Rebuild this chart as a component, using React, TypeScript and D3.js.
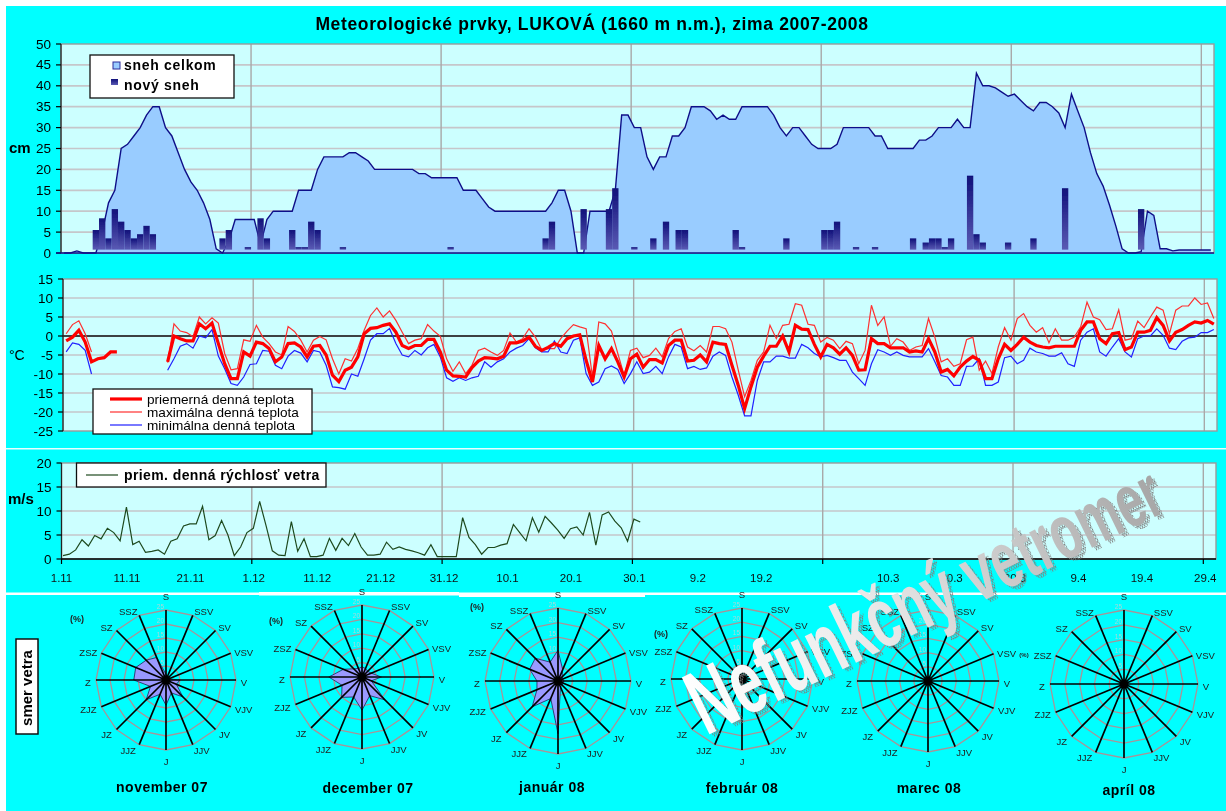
import React from "react";
import * as d3 from "d3";

const W = 1226, H = 811;
const tickLabels = ["1.11","11.11","21.11","1.12","11.12","21.12","31.12","10.1","20.1","30.1","9.2","19.2","","10.3","20.3","30.3","9.4","19.4","29.4"];
const directions = ["S","SSV","SV","VSV","V","VJV","JV","JJV","J","JJZ","JZ","ZJZ","Z","ZSZ","SZ","SSZ"];
const months = ["november 07","december 07","január 08","február 08","marec 08","apríl 08"];

const snowTotal = [0,0,0.5,0,0,0,5,12,15,25,26,28,30,33,35,35,30,28,24,20,17,15,12,8,1,0,3,8,8,8,8,2,8,10,10,10,10,15,15,15,20,23,23,23,23,24,24,23,22,20,20,20,20,20,20,20,19,19,18,18,18,18,18,15,15,15,13,11,10,10,10,10,10,10,10,10,10,12,15,15,10,0,0,10,10,10,10,15,33,33,30,30,23,20,23,23,28,28,30,35,35,35,34,32,33,32,32,35,35,35,35,35,33,30,28,30,30,28,26,25,25,25,26,30,30,30,30,30,28,28,25,25,25,25,25,27,27,28,30,30,30,32,30,30,43,40,40,39.5,38.5,37.5,38,36.5,35,34,36,36,35,33.5,30,38,34,30,24,19,16,11.5,6.5,1,0,0,0.3,10,9,1,1,0.5,0.7,0.7,0.7,0.7,0.7,0.7];
const newSnowDays = [5,6,7,8,9,10,11,12,13,14,25,26,29,31,32,36,37,38,39,40,44,61,76,77,82,86,87,90,93,95,97,98,106,107,114,120,121,122,125,128,134,136,137,138,139,140,143,144,145,149,153,158,170];
const newSnowCm = [5.5,8.3,3.5,10.5,7.5,5.5,3.5,4.5,6.5,4.5,3.5,5.5,1.4,8.3,3.5,5.5,1.4,1.4,7.5,5.5,1.4,1.4,3.5,7.5,10.5,10.5,15.5,1.4,3.5,7.5,5.5,5.5,5.5,1.4,3.5,5.5,5.5,7.5,1.4,1.4,3.5,2.5,3.5,3.5,1.4,3.5,18.5,4.5,2.5,2.5,3.5,15.5,10.5];

const n = null;
const tempMean = [-1.3,-0.3,1.5,-1.6,-6.8,-6,-5.7,-4.2,-4.2,n,n,n,n,n,n,n,-6.8,0,-0.7,-1.3,-1.3,3.2,1.9,3.4,-2,-7.3,-11.2,-11.2,-4.2,-5.3,-1.6,-2,-3.3,-6.8,-5.5,-2,-1.8,-2.9,-5.5,-2.7,-2.5,-5,-10.3,-12,-9,-8.2,-5.5,0.6,2,2.2,2.8,3.2,1,-2.5,-3.3,-2.5,-2.5,-0.9,-0.9,-4.2,-9,-10.5,-10.6,-10.8,-8.3,-6.6,-5.7,-5.8,-6,-5.3,-1.8,-1.8,-1.3,-0.3,-2.7,-3.8,-3,-2,-2.7,-0.7,0,0.3,-6.4,-12.1,-2.5,-6,-3.3,-6.8,-10.8,-6,-4.8,-8.2,-6.2,-6.2,-7.1,-2.5,-1.1,-1.1,-6.6,-6.4,-5,-6.8,-1.6,-2,-2.2,-7.7,-13,-19.1,-13.4,-8.2,-5.3,-2.7,-2.7,0,-4.2,2.8,1.8,1.7,-2.2,-5.5,-2.2,-3.1,-4.8,-3.1,-5.1,-9,-8.9,-0.7,-2,-2,-3.1,-3.1,-3.1,-4.2,-3.9,-4.2,-0.7,-4.2,-9.5,-8.8,-10.5,-8.2,-6.6,-5.4,-6.4,-11.2,-11.2,-6,-2.2,-3.8,-2.2,-0.3,-1.6,-2.5,-2.9,-3.1,-2.7,-2.7,-2.7,-2.7,1.5,3.7,3.7,-0.7,-2,0.6,0.9,-3.6,-2.9,1,1,1.5,4.8,2.8,-1.3,1,1.7,2.8,3.7,3.4,4.1,3.1];
const tempMax = [0.6,3,4,0.6,-4.2,n,n,n,n,n,n,n,n,n,n,n,-7,3.2,1.3,0.9,-0.2,5,3.2,4.8,3.4,-4.6,-8.9,-8.6,-1,-1.4,2.8,-0.3,-2,-4.2,-5,2.5,1.2,-1.1,-4.2,-1.1,-0.1,-1,-6,-10,-6,-6.6,-3.3,1.5,5.4,7.4,5,6.6,4.1,1,-2,-1.1,-0.7,3,1.3,-0.1,-6,-9.3,-6.8,-9.9,-7.7,-3.8,-3.2,-4.2,-5.1,-3.8,0.8,-1.6,-0.7,1.9,-0.3,-3.6,-3.3,-3.3,-0.7,1.3,3,2.4,1.9,-10.8,3.7,3.2,1.3,-4.6,-10.4,-3.8,-3.2,-5.7,-5.1,-3.2,-5.5,-0.7,1.2,1.9,-2.9,-3.9,-2.5,-4.2,2.5,2.5,1.9,-1.6,-9,-16,-11.7,-6.4,-4.2,2.8,-0.7,2.8,3.1,8.5,8.1,3.1,2.8,-1.6,-0.4,-1.1,-3.3,-1.4,-2,-7.3,-3.8,8.1,2.8,5,-2.7,-0.7,-1.6,-3.8,-2.9,-2.5,4.6,-0.3,-6.8,-6,-8,-7.3,-1,-0.3,-9,-6.6,-9.9,-2.9,2.2,-1.1,4.6,5.9,2.8,1,2.2,-1.8,1.9,-1.1,-1.1,-0.3,2.4,8.9,5,4.3,1.7,1.9,6.9,-1.1,-0.7,3.9,2.2,5,7.6,6.8,0.6,6.8,7.9,7.9,10,8.3,8.7,4.6];
const tempMin = [-4.2,-1.8,-2.2,-3.8,-10,n,n,n,n,n,n,n,n,n,n,n,-9,-6,-2.7,-2,-3.2,0,-0.5,1.7,-5.3,-8.6,-12.5,-13,-10.8,-7.5,-7.3,-3.8,-4,-7.7,-8.6,-5.3,-3.8,-4.5,-6.8,-3.8,-4.2,-7.7,-13.4,-13.6,-14,-10,-10.6,-6,-1.1,0.6,0.6,2,-2,-5,-5.5,-3.8,-5,-3.1,-2.2,-5.5,-11,-11.9,-11,-11.7,-11,-10.6,-6.8,-8.2,-6.8,-6,-4.2,-3.2,-2.5,-0.7,-3.1,-4.2,-4.2,-1.3,-4.2,-4.6,-1.1,-0.5,-9.9,-13,-12.1,-8.6,-7.9,-8.8,-12.5,-9.9,-6.8,-9.9,-9.5,-8,-9.9,-5.5,-2.2,-2.9,-8.6,-8,-8.8,-8.4,-5.3,-4.2,-5.1,-10.8,-15.6,-21,-21,-11.7,-6.8,-6.8,-5.3,-5.3,-5.8,-5.8,-2.2,-3.1,-4.6,-5.5,-5.1,-5.7,-6.4,-6.4,-9.5,-11.2,-13,-7.3,-3.6,-4.2,-5.1,-4.2,-5.1,-5.5,-5.5,-5.5,-3.3,-6.8,-10.4,-10.8,-13,-13,-8,-7.9,-6,-13,-13,-12.1,-5.7,-5.3,-7.3,-6.4,-3.2,-4.2,-4.6,-5.3,-5.3,-4.4,-7.3,-8,-1.1,1,1.9,-4.2,-5.3,-2.9,-0.7,-4.2,-5.5,-0.7,0,0,1.9,0.2,-3.2,-3.6,-1.4,-0.5,-0.3,0.9,0.9,1.7];
const wind = [0.7,1,1.9,4,2.7,4.9,4.2,6.4,5.5,3.8,10.8,3,3.7,1.4,1.6,1.9,1,3.7,4.2,6.9,7.3,7.3,11,4,4.9,8,5,0.7,2.5,5.5,6.4,12,7,1.7,0.8,0.7,7.8,1.6,4.2,0.5,0.5,0.8,4.3,1.8,4.3,2.8,5.3,2.5,0.8,0.8,1,3.5,2,2.5,2,1.7,1.3,0.8,3,0.5,0.5,0.5,0.5,8.6,4.5,3,1,2.4,2.4,2.9,3.2,7.2,5.5,3.8,8.6,5.6,8.9,7.5,6,4.3,6.3,6.7,5,9.7,2.9,9.2,9.8,7.9,6.5,3.7,8.3,7.7];

const roseNov = [2,1,1,1,5,4,8.5,5,9,5.5,10,6,11.5,11.7,10,8.7];
const roseDec = [3.5,3.2,2.8,3.5,6.7,3.5,11.2,7,11.5,7.5,10,7.5,11.5,7,4,3.2];
const roseJan = [10.5,4.2,2,1.8,2,1.8,2,2.2,18,6.5,12.5,7.8,7.2,10.5,11,7];
const roseFeb = directions.map(() => 0);
const roseMar = directions.map(() => 0);
const roseApr = directions.map(() => 0);
const roseData = [roseNov, roseDec, roseJan, roseFeb, roseMar, roseApr];
const ringValues = [5, 10, 15, 20, 25];
const labelDx = [0, 11, 9, 13, 8, 13, 9, 9, 0, -11, -10, -13, -8, -13, -10, -11];
const labelDy = [-13, -3, -3, 0, 3, 3, 6, 6, 12, 6, 6, 3, 3, 0, -3, -3];

const roseGeom = [
  { cx: 166, cy: 680, r: 70, capX: 162, capY: 787, pctX: 77, pctY: 619, pctSize: 9 },
  { cx: 362, cy: 677, r: 72, capX: 368, capY: 788, pctX: 276, pctY: 621, pctSize: 9 },
  { cx: 558, cy: 681, r: 73, capX: 552, capY: 787, pctX: 477, pctY: 607, pctSize: 9 },
  { cx: 742, cy: 679, r: 71, capX: 742, capY: 788, pctX: 661, pctY: 634, pctSize: 9 },
  { cx: 928, cy: 681, r: 71, capX: 929, capY: 788, pctX: 0, pctY: 0, pctSize: 9 },
  { cx: 1124, cy: 684, r: 74, capX: 1129, capY: 790, pctX: 1024, pctY: 654, pctSize: 6 },
];

const SANS = "'Liberation Sans', Arial, sans-serif";
const days = d3.range(182);
const GRID_H = "#c6c6ca", GRID_V = "#a8a8a8", BORDER = "#9a9a9a";

function Panel({ x, y, width, height, ticks }: any) {
  const vLines = d3.range(30, 182, 30);
  return (
    <g>
      <rect x={x.range()[0]} y={y.range()[1]} width={width} height={height} fill="#ccffff" />
      {ticks.filter((t: number) => t !== y.domain()[0] && t !== y.domain()[1]).map((t: number) => (
        <line key={t} x1={x.range()[0]} x2={x.range()[1]} y1={y(t)} y2={y(t)} stroke={GRID_H} strokeWidth={1.7} />
      ))}
      {vLines.map((d) => (
        <line key={d} x1={x.range()[0] + d * x.step()} x2={x.range()[0] + d * x.step()} y1={y.range()[1]} y2={y.range()[0]} stroke={GRID_V} strokeWidth={1.4} />
      ))}
      <rect x={x.range()[0]} y={y.range()[1]} width={width} height={height} fill="none" stroke={BORDER} strokeWidth={1.4} />
    </g>
  );
}

function YAxis({ x0, y, ticks }: any) {
  return (
    <g fontFamily={SANS} fontSize={13.5} fill="#000">
      <line x1={x0} x2={x0} y1={y.range()[0]} y2={y.range()[1]} stroke="#222" strokeWidth={1.2} />
      {ticks.map((t: number) => (
        <g key={t}>
          <line x1={x0 - 5} x2={x0} y1={y(t)} y2={y(t)} stroke="#000" strokeWidth={1.2} />
          <text x={x0 - 10} y={y(t) + 4.5} textAnchor="end">{t}</text>
        </g>
      ))}
    </g>
  );
}

function Rose({ values, g, caption }: any) {
  const angle = d3.scalePoint<string>().domain(directions).range([0, 337.5]);
  const rad = d3.scaleLinear().domain([0, 25]).range([0, g.r]);
  const pos = (d: string, v: number) => {
    const a = ((angle(d) as number) * Math.PI) / 180;
    return [g.cx + rad(v) * Math.sin(a), g.cy - rad(v) * Math.cos(a)];
  };
  const closed = d3.line().curve(d3.curveLinearClosed);
  return (
    <g fontFamily={SANS}>
      {ringValues.map((v) => (
        <path key={v} d={closed(directions.map((d) => pos(d, v)) as any) as string} fill="none" stroke="#a89498" strokeWidth={1.3} />
      ))}
      {ringValues.map((v) => {
        const [px, py] = pos("S", v);
        return <text key={v} x={px - 2} y={py - 1} fontSize={6.5} fill="#a8d8d8" textAnchor="end">{v}</text>;
      })}
      {values.some((v: number) => v > 0) && (
        <path d={closed(directions.map((d, i) => pos(d, values[i])) as any) as string} fill="#9999ff" stroke="#222255" strokeWidth={0.8} />
      )}
      {directions.map((d) => {
        const [px, py] = pos(d, 25);
        return <line key={d} x1={g.cx} y1={g.cy} x2={px} y2={py} stroke="#000" strokeWidth={1.7} />;
      })}
      <circle cx={g.cx} cy={g.cy} r={4.5} fill="#000" />
      {directions.map((d, i) => {
        const [px, py] = pos(d, 25);
        return <text key={d} x={px + labelDx[i]} y={py + labelDy[i] + 3} fontSize={9.5} fill="#222" textAnchor="middle">{d}</text>;
      })}
      {g.pctX > 0 && <text x={g.pctX} y={g.pctY + 3} fontSize={g.pctSize} fontWeight="bold" fill="#222" textAnchor="middle">(%)</text>}
      <text x={g.capX} y={g.capY + 5} fontSize={14} letterSpacing={0.5} fontWeight="bold" fill="#000" textAnchor="middle">{caption}</text>
    </g>
  );
}

export default function App() {
  const x1 = d3.scaleBand<number>().domain(days).range([61, 1214]).paddingInner(0);
  const y1 = d3.scaleLinear().domain([0, 50]).range([253, 44]);
  const c1 = (i: number) => (x1(i) as number) + x1.bandwidth() / 2;
  const area = d3.area<number>().x((_, i) => c1(i)).y0(y1(0)).y1((d) => y1(d));
  const top = d3.line<number>().x((_, i) => c1(i)).y((d) => y1(d));
  const ticks1 = d3.range(0, 51, 5);

  const x2 = d3.scaleBand<number>().domain(days).range([63, 1217]).paddingInner(0);
  const y2 = d3.scaleLinear().domain([-25, 15]).range([431, 279]);
  const c2 = (i: number) => (x2(i) as number) + x2.bandwidth() / 2;
  const tLine = d3.line<number | null>().defined((d) => d !== null).x((_, i) => c2(i)).y((d) => y2(d as number));
  const ticks2 = d3.range(-25, 16, 5);

  const x3 = d3.scaleBand<number>().domain(days).range([61.5, 1216]).paddingInner(0);
  const y3 = d3.scaleLinear().domain([0, 20]).range([559, 463]);
  const wLine = d3.line<number>().x((_, i) => 63 + i * x3.step()).y((d) => y3(d));
  const ticks3 = d3.range(0, 21, 5);

  const word = "Nefunkčný vetromer".split("");
  const sizeOf = d3.scaleLinear().domain([0, word.length - 1]).range([92, 74]);
  const wmText = (extra: any) => (
    <text fontFamily={SANS} fontWeight="bold" {...extra}>
      {word.map((ch, i) => (
        <tspan key={i} fontSize={sizeOf(i)} xmlSpace="preserve">{ch}</tspan>
      ))}
    </text>
  );

  return (
    <svg width={W} height={H} viewBox={`0 0 ${W} ${H}`} style={{ position: "absolute", left: 0, top: 0, display: "block" }}>
      <defs>
        <linearGradient id="bar" x1="0" y1="0" x2="0" y2="1">
          <stop offset="0" stopColor="#10107a" />
          <stop offset="1" stopColor="#5a5ab4" />
        </linearGradient>
        <linearGradient id="wmFill" x1="0" y1="0" x2="1" y2="0">
          <stop offset="0" stopColor="#ffffff" />
          <stop offset="0.4" stopColor="#e8e8e8" />
          <stop offset="1" stopColor="#a6a6a6" />
        </linearGradient>
        <pattern id="wmShadow" width="4" height="4" patternUnits="userSpaceOnUse">
          <path d="M0 0h4v1.4H0zM0 0v4h1.4V0z" fill="#7f7f7f" />
        </pattern>
        <filter id="soft" x="-2%" y="-2%" width="104%" height="104%">
          <feGaussianBlur stdDeviation="0.55" />
        </filter>
      </defs>
      <rect width={W} height={H} fill="#ffffff" />
      <rect x={6} y={6} width={W - 6} height={H - 6} fill="#00ffff" />
      <g filter="url(#soft)">
        <rect x={6} y={448} width={W - 6} height={1.5} fill="#e8ffff" />
        <rect x={6} y={592.5} width={W - 6} height={2.5} fill="#ffffff" />
        <rect x={259} y={592} width={200} height={3.5} fill="#ffffff" />
        <rect x={459} y={593} width={186} height={4} fill="#ffffff" />

        <text x={592} y={30} textAnchor="middle" fontFamily={SANS} fontSize={17.5} letterSpacing={0.64} fontWeight="bold" fill="#000">Meteorologické prvky, LUKOVÁ (1660 m n.m.), zima 2007-2008</text>

        <Panel x={x1} y={y1} width={1153} height={209} ticks={ticks1} />
        <path d={area(snowTotal) as string} fill="#99ccff" />
        <path d={top(snowTotal) as string} fill="none" stroke="#101088" strokeWidth={1.4} />
        {newSnowDays.map((d, i) => (
          <rect key={d} x={x1(d) as number} y={y1(newSnowCm[i])} width={x1.bandwidth()} height={y1(0.8) - y1(newSnowCm[i])} fill="url(#bar)" />
        ))}
        <YAxis x0={61} y={y1} ticks={ticks1} />
        <line x1={56} x2={1214} y1={253} y2={253} stroke="#101088" strokeWidth={1.5} />
        <text x={9} y={153} fontFamily={SANS} fontSize={15} fontWeight="bold">cm</text>
        <g fontFamily={SANS}>
          <rect x={90} y={55} width={144} height={43} fill="#fff" stroke="#111" strokeWidth={1.3} />
          <rect x={113} y={62} width={7} height={7} fill="#99ccff" stroke="#2a2a9a" strokeWidth={1} />
          <text x={124} y={70} fontSize={14} letterSpacing={0.7} fontWeight="bold">sneh celkom</text>
          <rect x={111} y={79} width={7} height={6} fill="url(#bar)" />
          <text x={124} y={90} fontSize={14} letterSpacing={0.7} fontWeight="bold">nový sneh</text>
        </g>

        <Panel x={x2} y={y2} width={1154} height={152} ticks={ticks2} />
        <line x1={63} x2={1217} y1={y2(0)} y2={y2(0)} stroke="#111" strokeWidth={1.5} />
        <path d={tLine(tempMax) as string} fill="none" stroke="#ff3030" strokeWidth={1.2} />
        <path d={tLine(tempMin) as string} fill="none" stroke="#2020ff" strokeWidth={1.2} />
        <path d={tLine(tempMean) as string} fill="none" stroke="#ff0000" strokeWidth={3.2} />
        <YAxis x0={63} y={y2} ticks={ticks2} />
        <text x={9} y={360} fontFamily={SANS} fontSize={14}>°C</text>
        <g fontFamily={SANS} fontSize={13.6}>
          <rect x={93} y={389} width={219} height={45} fill="#fff" stroke="#111" strokeWidth={1.3} />
          <line x1={110} x2={142} y1={399} y2={399} stroke="#ff0000" strokeWidth={3.2} />
          <text x={147} y={403.5}>priemerná denná teplota</text>
          <line x1={110} x2={142} y1={412} y2={412} stroke="#ff3030" strokeWidth={1.2} />
          <text x={147} y={416.5}>maximálna denná teplota</text>
          <line x1={110} x2={142} y1={425} y2={425} stroke="#2020ff" strokeWidth={1.2} />
          <text x={147} y={429.5}>minimálna denná teplota</text>
        </g>

        <Panel x={x3} y={y3} width={1154.5} height={96} ticks={ticks3} />
        <path d={wLine(wind) as string} fill="none" stroke="#1f4a1f" strokeWidth={1.2} />
        <YAxis x0={61.5} y={y3} ticks={ticks3} />
        <line x1={61.5} x2={1216} y1={559} y2={559} stroke="#000" strokeWidth={1.4} />
        {tickLabels.map((t, i) => {
          const xt = 61.5 + i * 10 * x3.step();
          return (
            <g key={i}>
              {i % 3 === 0 && <line x1={xt} x2={xt} y1={559} y2={564} stroke="#000" strokeWidth={1.2} />}
              {t && <text x={xt + (i === 0 ? 0 : 2)} y={582} textAnchor="middle" fontFamily={SANS} fontSize={11.5} fill="#111">{t}</text>}
            </g>
          );
        })}
        <text x={8} y={504} fontFamily={SANS} fontSize={15} fontWeight="bold">m/s</text>
        <g fontFamily={SANS}>
          <rect x={76.5} y={463} width={249.5} height={24} fill="#fff" stroke="#111" strokeWidth={1.3} />
          <line x1={86} x2={118} y1={475} y2={475} stroke="#1f4a1f" strokeWidth={1.2} />
          <text x={124} y={480} fontSize={14} letterSpacing={0.4} fontWeight="bold">priem. denná rýchlosť vetra</text>
        </g>

        <rect x={16} y={639} width={22} height={95} fill="#fff" stroke="#111" strokeWidth={1.5} />
        <text transform="translate(32,688) rotate(-90)" textAnchor="middle" fontFamily={SANS} fontSize={15} fontWeight="bold">smer vetra</text>
        {roseGeom.map((g, i) => (
          <Rose key={i} values={roseData[i]} g={g} caption={months[i]} />
        ))}

        <g transform="translate(710,739) rotate(-26) scale(0.64,1)">{wmText({ fill: "url(#wmShadow)" })}</g>
        <g transform="translate(706,736) rotate(-26) scale(0.64,1)">{wmText({ fill: "url(#wmFill)" })}</g>
      </g>
    </svg>
  );
}
